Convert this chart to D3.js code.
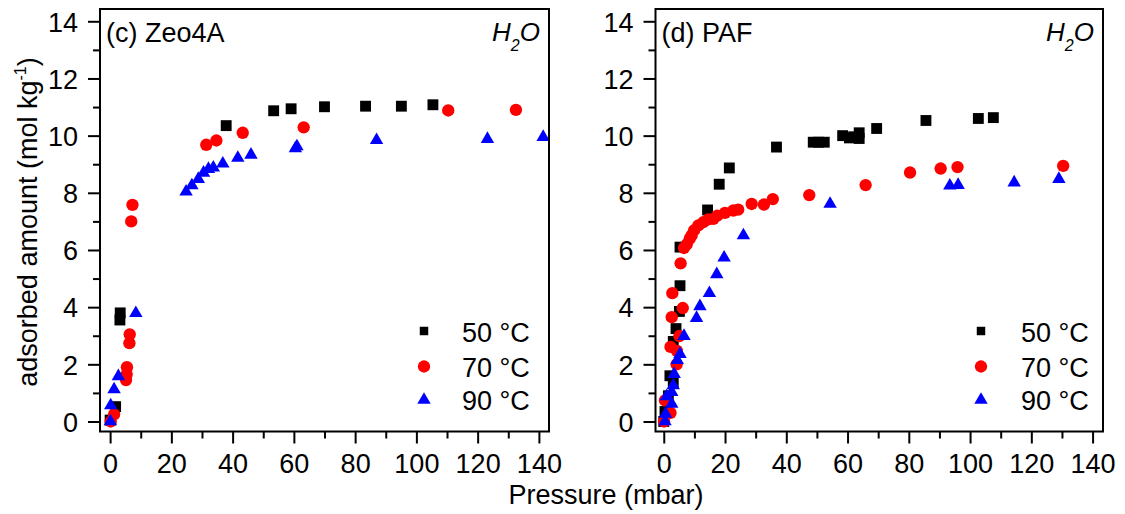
<!DOCTYPE html>
<html>
<head>
<meta charset="utf-8">
<script src="https://cdn.jsdelivr.net/npm/d3@7"></script>
<style>
  html, body { margin: 0; padding: 0; background: #fff; }
  svg { display: block; font-family: "Liberation Sans", Arial, sans-serif; }
</style>
</head>
<body>
<svg id="chart" width="1125" height="514"></svg>
<script>
// ---------- data ----------
const xTicks = [0, 20, 40, 60, 80, 100, 120, 140];
const yTicks = [0, 2, 4, 6, 8, 10, 12, 14];
const seriesNames = ["50 °C", "70 °C", "90 °C"];
const seriesColors = ["#000000", "#ff0000", "#0000ff"];

// (c) Zeo4A
const zeoP50 = [0.0, 1.8, 3.2, 3.3, 37.9, 53.4, 59.1, 70.0, 83.4, 95.1, 105.4];
const zeoQ50 = [0.05, 0.52, 3.55, 3.8, 10.35, 10.87, 10.94, 11.01, 11.03, 11.03, 11.08];
const zeoP70 = [0.2, 1.3, 5.2, 5.4, 5.5, 6.3, 6.4, 6.9, 7.3, 31.4, 34.7, 43.3, 63.2, 110.4, 132.5];
const zeoQ70 = [0.0, 0.25, 1.45, 1.65, 1.9, 2.74, 3.05, 7.0, 7.58, 9.68, 9.83, 10.1, 10.29, 10.88, 10.9];
const zeoP90 = [0.1, 0.2, 1.3, 2.7, 8.4, 24.8, 26.7, 28.8, 30.5, 32.1, 33.7, 36.8, 41.7, 46.0, 60.5, 61.0, 87.0, 123.2, 141.4];
const zeoQ90 = [0.0, 0.56, 1.12, 1.58, 3.79, 8.04, 8.26, 8.48, 8.7, 8.83, 8.88, 9.02, 9.22, 9.33, 9.55, 9.62, 9.84, 9.88, 9.95];

// (d) PAF
const pafP50 = [0.0, 0.4, 1.5, 2.0, 3.1, 3.1, 4.0, 5.1, 5.3, 5.3, 14.3, 18.1, 21.4, 36.8, 48.8, 50.5, 52.4, 58.4, 60.6, 62.0, 63.8, 63.8, 69.5, 85.6, 102.7, 107.6];
const pafQ50 = [0.0, 0.35, 0.9, 1.6, 1.35, 2.8, 3.25, 3.85, 4.75, 6.1, 7.4, 8.3, 8.87, 9.6, 9.77, 9.77, 9.77, 10.0, 9.92, 9.96, 10.1, 9.9, 10.25, 10.53, 10.6, 10.63];
const pafP70 = [0.1, 0.4, 2.2, 2.2, 2.6, 2.8, 4.2, 4.3, 5.1, 5.5, 6.2, 6.6, 7.5, 8.5, 9.1, 9.9, 11.3, 12.9, 14.5, 16.2, 17.5, 20.0, 22.7, 24.3, 28.7, 32.7, 35.6, 47.5, 65.9, 80.4, 90.4, 95.9, 130.4];
const pafQ70 = [0.0, 0.74, 0.3, 2.61, 3.65, 4.49, 2.0, 2.47, 2.99, 5.53, 3.97, 6.07, 6.2, 6.4, 6.51, 6.69, 6.86, 6.97, 7.07, 7.09, 7.2, 7.3, 7.38, 7.41, 7.61, 7.59, 7.78, 7.92, 8.27, 8.71, 8.85, 8.9, 8.94];
const pafP90 = [0.4, 0.6, 0.9, 2.6, 2.6, 3.1, 3.4, 4.4, 5.3, 6.6, 10.7, 11.8, 14.9, 17.3, 19.7, 26.0, 54.3, 93.4, 96.1, 114.4, 129.0];
const pafQ90 = [0.0, 0.27, 0.88, 0.62, 1.03, 1.26, 1.66, 2.15, 2.36, 2.99, 3.62, 4.03, 4.49, 5.15, 5.73, 6.51, 7.61, 8.25, 8.27, 8.36, 8.48];

const panels = [
  { label: "(c) Zeo4A", left: 100, right: 549, xDomain: [-3.3, 143.3],
    series: [[zeoP50, zeoQ50], [zeoP70, zeoQ70], [zeoP90, zeoQ90]],
    legendMarkerX: 424, legendTextX: 462 },
  { label: "(d) PAF", left: 655.5, right: 1103, xDomain: [-2.7, 143.4],
    series: [[pafP50, pafQ50], [pafP70, pafQ70], [pafP90, pafQ90]],
    legendMarkerX: 981, legendTextX: 1021 }
];

// ---------- drawing ----------
const svg = d3.select("#chart");
const plotTop = 9, plotBottom = 431.5;
const y = d3.scaleLinear().domain([-0.35, 14.43]).range([plotBottom, plotTop]);
const fontSize = 27;
const symbolTypes = [d3.symbolSquare, d3.symbolCircle, d3.symbolTriangle];
const symbolSizes = [118, 120, 78];
const legendSizes = [72, 120, 78];

panels.forEach(p => {
  const x = d3.scaleLinear().domain(p.xDomain).range([p.left, p.right]);
  const g = svg.append("g");

  // data points
  p.series.forEach((s, i) => {
    const pts = s[0].map((v, k) => [v, s[1][k]]);
    g.append("g").selectAll("path").data(pts).enter().append("path")
      .attr("d", d3.symbol().type(symbolTypes[i]).size(symbolSizes[i]))
      .attr("transform", d => `translate(${x(d[0])},${y(d[1])})`)
      .attr("fill", seriesColors[i]);
  });

  // frame
  g.append("rect")
    .attr("x", p.left).attr("y", plotTop)
    .attr("width", p.right - p.left).attr("height", plotBottom - plotTop)
    .attr("fill", "none").attr("stroke", "#000").attr("stroke-width", 2);

  // y axis major
  const yAxis = d3.axisLeft(y).tickValues(yTicks).tickSize(12).tickPadding(10)
    .tickFormat(d3.format("d"));
  const ya = g.append("g").attr("transform", `translate(${p.left},0)`).call(yAxis);
  ya.select(".domain").remove();
  ya.selectAll("line").attr("stroke-width", 2);
  ya.selectAll("text").attr("font-size", fontSize).attr("font-family", "Liberation Sans, Arial").attr("fill", "#000")
    .attr("dy", "0.36em");
  // y minor
  const yMinor = d3.axisLeft(y).tickValues(d3.range(1, 14, 2)).tickSize(7).tickFormat("");
  const ym = g.append("g").attr("transform", `translate(${p.left},0)`).call(yMinor);
  ym.select(".domain").remove();
  ym.selectAll("line").attr("stroke-width", 2);

  // x axis major
  const xAxis = d3.axisBottom(x).tickValues(xTicks).tickSize(12).tickPadding(10)
    .tickFormat(d3.format("d"));
  const xa = g.append("g").attr("transform", `translate(0,${plotBottom})`).call(xAxis);
  xa.select(".domain").remove();
  xa.selectAll("line").attr("stroke-width", 2);
  xa.selectAll("text").attr("font-size", fontSize).attr("font-family", "Liberation Sans, Arial").attr("fill", "#000")
    .attr("dy", "0.72em");
  const xMinor = d3.axisBottom(x).tickValues(d3.range(10, 140, 20)).tickSize(7).tickFormat("");
  const xm = g.append("g").attr("transform", `translate(0,${plotBottom})`).call(xMinor);
  xm.select(".domain").remove();
  xm.selectAll("line").attr("stroke-width", 2);

  // panel label
  g.append("text").attr("x", p.left + 6).attr("y", 41.5)
    .attr("font-size", fontSize).attr("fill", "#000").text(p.label);

  // H2O label
  const h = g.append("text").attr("x", p.right - 9).attr("y", 40.5)
    .attr("text-anchor", "end").attr("font-size", 26).attr("font-style", "italic").attr("fill", "#000");
  h.append("tspan").text("H");
  h.append("tspan").attr("font-size", 16).attr("dy", 10).text("2");
  h.append("tspan").attr("dy", -10).text("O");

  // legend
  const legY = [331, 366.5, 400];
  const txtY = [342, 376.5, 410];
  seriesNames.forEach((name, i) => {
    g.append("path")
      .attr("d", d3.symbol().type(symbolTypes[i]).size(legendSizes[i]))
      .attr("transform", `translate(${p.legendMarkerX},${legY[i]})`)
      .attr("fill", seriesColors[i]);
    g.append("text").attr("x", p.legendTextX).attr("y", txtY[i])
      .attr("font-size", fontSize).attr("fill", "#000").text(name);
  });
});

// axis titles
svg.append("text").attr("x", 606).attr("y", 504).attr("text-anchor", "middle")
  .attr("font-size", fontSize).attr("fill", "#000").text("Pressure (mbar)");

const yl = svg.append("text")
  .attr("transform", "translate(37,222) rotate(-90)")
  .attr("text-anchor", "middle").attr("font-size", fontSize).attr("fill", "#000");
yl.append("tspan").text("adsorbed amount (mol kg");
yl.append("tspan").attr("font-size", 16).attr("dy", -11).text("-1");
yl.append("tspan").attr("dy", 11).text(")");
</script>
</body>
</html>
